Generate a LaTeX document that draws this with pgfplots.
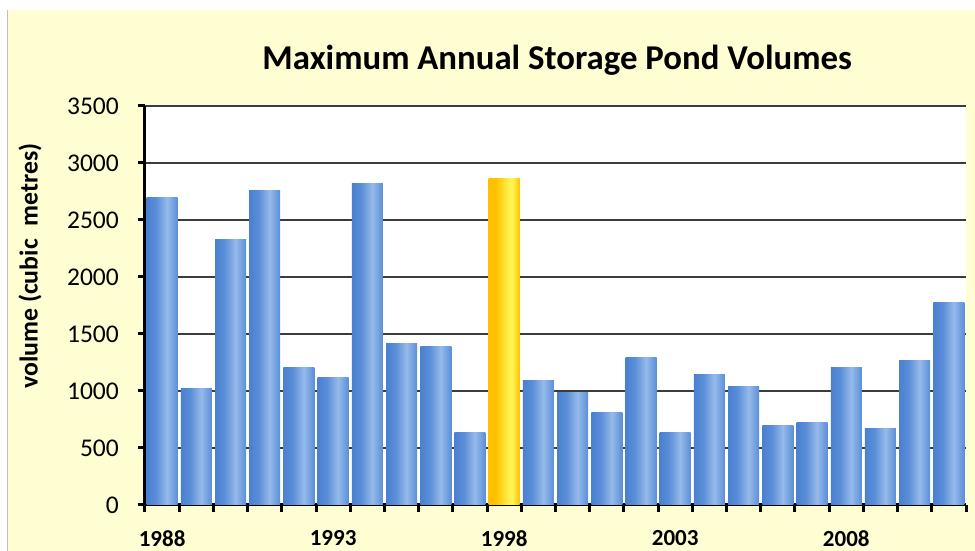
\documentclass[border=0pt]{standalone}
\usepackage{pgfplots}
\usepackage{pgfplotstable}
\pgfplotsset{compat=1.18}
\usepackage{fontspec}
\setmainfont{Carlito}

\definecolor{chartbg}{HTML}{FFFDD2}
\definecolor{gridgray}{HTML}{3C3C3C}
\definecolor{blueA}{HTML}{4A80D0}
\definecolor{blueB}{HTML}{5A8ED8}
\definecolor{blueC}{HTML}{96BAEA}
\definecolor{goldA}{HTML}{FFC000}
\definecolor{goldB}{HTML}{FFF24E}

% horizontal bar shadings (path is mapped onto 25bp--75bp)
\pgfdeclarehorizontalshading{bluebar}{100bp}{color(0bp)=(blueA); color(25bp)=(blueA); color(40bp)=(blueB); color(58bp)=(blueC); color(75bp)=(blueB); color(100bp)=(blueB)}
\pgfdeclarehorizontalshading{goldbar}{100bp}{color(0bp)=(goldA); color(25bp)=(goldA); color(36bp)=(goldA); color(58bp)=(goldB); color(64bp)=(goldB); color(75bp)=(goldA); color(100bp)=(goldA)}

% maximum annual pond volume, index 0 = 1988
\pgfplotstableread{
x v
0 2700
1 1020
2 2330
3 2755
4 1210
5 1120
6 2820
7 1420
8 1390
9 640
11 1090
12 990
13 810
14 1290
15 635
16 1145
17 1040
18 695
19 720
20 1210
21 670
22 1270
23 1775
}\volumes
\pgfplotstableread{
x v
10 2860
}\peakyear

\pgfplotsset{
  pondbar/.style={ybar, bar width=31pt, bar shift=0pt, draw=none, shade, shading=#1},
}

\begin{document}
\begin{tikzpicture}
\useasboundingbox (0,0) rectangle (975pt,551pt);
\fill[white] (0,0) rectangle (975pt,551pt);
\fill[chartbg] (7pt,0) rectangle (975pt,541pt);
\draw[black!25, line width=1pt] (7pt,0) -- (7pt,541pt);
\fill[white] (145pt,46pt) rectangle (966pt,445pt);
\begin{axis}[
  at={(145pt,46pt)}, anchor=south west,
  scale only axis, width=821pt, height=399pt,
  xmin=-0.5, xmax=23.5, ymin=0, ymax=3500,
  axis x line*=bottom, axis y line*=left,
  axis line style={-, black, line width=3pt},
  ytick={0,500,...,3500},
  ymajorgrids, major grid style={gridgray, line width=1.6pt},
  xtick={-0.5,0.5,...,23.5}, xticklabels={},
  extra x ticks={0,5,10,15,20},
  extra x tick labels={1988,1993,1998,2003,2008},
  extra x tick style={major tick length=0pt},
  tick align=outside, major tick length=7pt,
  tick style={black, line width=3pt},
  /pgf/number format/assume math mode=true,
  /pgf/number format/1000 sep={},
  yticklabel style={font=\fontsize{25.5}{28}\selectfont, inner sep=0pt, xshift=-19pt},
  xticklabel style={font=\fontsize{23}{26}\selectfont\bfseries, inner sep=0pt, yshift=-25pt},
  title={Maximum Annual Storage Pond Volumes},
  title style={at={(axis description cs:0.502,1.10)}, anchor=center, font=\fontsize{34.8}{40}\selectfont\bfseries},
  ylabel={volume (cubic\hspace{0.5em}metres)},
  ylabel style={at={(axis description cs:-0.140,0.599)}, anchor=center, font=\fontsize{25.8}{30}\selectfont\bfseries},
]
% one plot per year so that every bar carries its own shading
\pgfplotsinvokeforeach{0,1,2,3,4,5,6,7,8,9,11,12,13,14,15,16,17,18,19,20,21,22,23}{
  \addplot[pondbar=bluebar, x filter/.expression={abs(x-#1)<0.1 ? x : nan}] table[x=x, y=v] {\volumes};
}
\addplot[pondbar=goldbar] table[x=x, y=v] {\peakyear};
\end{axis}
\end{tikzpicture}
\end{document}
